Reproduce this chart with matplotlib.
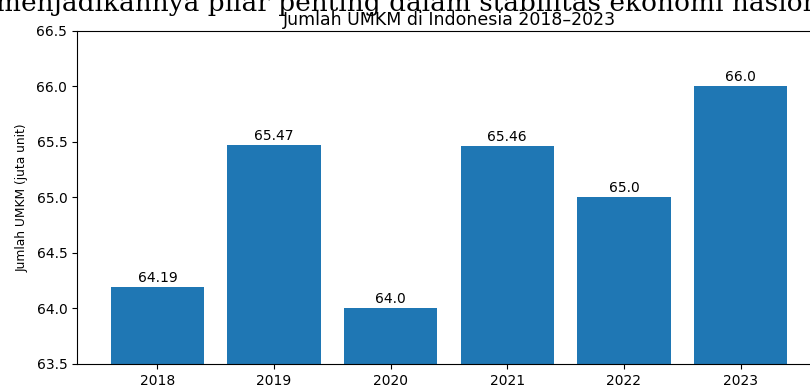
import matplotlib
matplotlib.use("Agg")
import matplotlib.pyplot as plt

# data
tahun = ["2018", "2019", "2020", "2021", "2022", "2023"]
jumlah_umkm = [64.19, 65.47, 64.0, 65.46, 65.0, 66.0]

fig = plt.figure(figsize=(8.10, 3.91), dpi=100)
# chart is a crop of a wider figure, right edge runs off the picture
ax = fig.add_axes([77/810, 27/391, 744/810, 333/391])

x = range(len(tahun))
ax.bar(x, jumlah_umkm, color="#1f77b4", width=0.8)
for i, v in enumerate(jumlah_umkm):
    ax.text(i, v + 0.02, str(v), ha="center", va="bottom", fontsize=10)

ax.set_xticks(list(x))
ax.set_xticklabels(tahun, fontsize=10)
ax.set_ylim(63.5, 66.5)
ax.set_yticks([63.5, 64.0, 64.5, 65.0, 65.5, 66.0, 66.5])
ax.tick_params(labelsize=10)
ax.set_title("Jumlah UMKM di Indonesia 2018–2023", fontsize=12.5, pad=4)
ax.set_ylabel("Jumlah UMKM (juta unit)", fontsize=8.8, labelpad=6)
ax.set_xlabel("Tahun", fontsize=10)

# sisa teks dokumen di atas gambar (terpotong)
fig.text(-4, 391 - 11, "menjadikannya pilar penting dalam stabilitas ekonomi nasional",
         transform=None, family="DejaVu Serif", fontsize=19, va="baseline", ha="left")

fig.savefig("out.png", dpi=100)
